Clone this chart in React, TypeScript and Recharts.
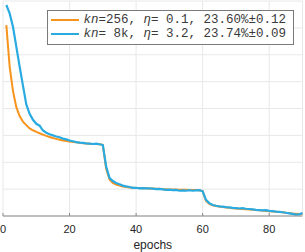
import { CartesianGrid, Legend, Line, LineChart, XAxis, YAxis } from "recharts";

// top-1 error (%) per epoch, epochs 1..90
const smallBatchErr = [
  91.0, 75.6, 66.5, 60.5, 57.2, 55.1, 53.8, 52.6, 51.9, 51.3,
  50.8, 50.3, 49.8, 49.4, 49.0, 48.7, 48.4, 48.1, 47.9, 47.7,
  47.5, 47.4, 47.3, 47.1, 47.0, 46.9, 46.8, 46.8, 46.7, 46.5,
  37.6, 33.6, 32.3, 31.7, 31.3, 31.0, 30.8, 30.6, 30.5, 30.4,
  30.4, 30.3, 30.3, 30.2, 30.2, 30.1, 30.1, 30.0, 30.0, 29.9,
  29.9, 29.9, 29.8, 29.8, 29.8, 29.7, 29.7, 29.7, 29.6, 29.3,
  25.6, 24.5, 24.0, 23.7, 23.5, 23.3, 23.2, 23.1, 22.9, 22.8,
  22.7, 22.6, 22.5, 22.4, 22.3, 22.2, 22.1, 22.0, 21.9, 21.8,
  21.7, 21.6, 21.5, 21.4, 21.2, 21.1, 20.9, 20.8, 20.7, 20.7,
];

const largeBatchErr = [
  98.5, 95.4, 90.4, 83.0, 75.6, 68.5, 61.5, 58.0, 55.8, 54.3,
  53.6, 51.8, 51.0, 50.4, 50.0, 49.6, 49.3, 48.8, 48.5, 48.1,
  47.8, 47.5, 47.3, 47.2, 47.0, 46.9, 46.8, 46.9, 46.7, 46.4,
  38.4, 34.2, 33.0, 32.3, 31.8, 31.3, 31.0, 30.8, 30.5, 30.5,
  30.3, 30.4, 30.3, 30.3, 30.2, 30.0, 30.1, 29.9, 29.7, 29.8,
  29.6, 29.7, 29.4, 29.5, 29.4, 29.6, 29.4, 29.5, 29.6, 29.2,
  26.0, 24.8, 24.1, 23.8, 23.6, 23.5, 23.3, 23.2, 23.0, 22.9,
  22.8, 22.9, 22.7, 22.6, 22.5, 22.3, 22.2, 22.1, 22.2, 21.9,
  21.8, 21.6, 21.5, 21.4, 21.2, 21.0, 20.8, 20.5, 20.6, 21.1,
];

const xTicks = [0, 20, 40, 60, 80];
const yTicks = [20, 30, 40, 50, 60, 70, 80, 90, 100];

const smallLabel = "kn=256, η= 0.1, 23.60%±0.12";
const largeLabel = "kn= 8k, η= 3.2, 23.74%±0.09";
const legendOrder = [smallLabel, largeLabel];

const data = smallBatchErr.map((v, i) => ({
  epoch: i + 1,
  small: v,
  large: largeBatchErr[i],
}));

const axisColor = "#8a8a8a";
const textColor = "#262626";

const italicize = (s: string) =>
  s.split(/(kn|η)/).map((part, i) =>
    part === "kn" || part === "η" ? (
      <i key={i}>{part}</i>
    ) : (
      <span key={i}>{part}</span>
    )
  );

const BottomTick = (props: any) => {
  const { x, y, payload } = props;
  return (
    <g>
      <line x1={x} x2={x} y1={y} y2={y - 3} stroke={axisColor} />
      <text x={x} y={y + 16.5} textAnchor="middle" fontSize={11} fill={textColor}>
        {payload.value}
      </text>
    </g>
  );
};

const TopTick = (props: any) => {
  const { x, y } = props;
  return <line x1={x} x2={x} y1={y} y2={y + 3} stroke={axisColor} />;
};

const LeftTick = (props: any) => {
  const { x, y } = props;
  return <line x1={x} x2={x + 3} y1={y} y2={y} stroke={axisColor} />;
};

const RightTick = (props: any) => {
  const { x, y } = props;
  return <line x1={x} x2={x - 3} y1={y} y2={y} stroke={axisColor} />;
};

const renderLegend = (props: any) => {
  const items = [...props.payload].sort(
    (a: any, b: any) => legendOrder.indexOf(a.value) - legendOrder.indexOf(b.value)
  );
  return (
    <div
      style={{
        boxSizing: "border-box",
        width: 247,
        height: 35,
        border: "1px solid #7a7a7a",
        background: "#fff",
        padding: "2.4px 0 0 3px",
        fontFamily: '"Liberation Mono", "DejaVu Sans Mono", monospace',
        fontSize: 12.5,
        color: "#3a3a3a",
      }}
    >
      {items.map((entry: any) => (
        <div
          key={entry.value}
          style={{ display: "flex", alignItems: "center", height: 14.4 }}
        >
          <span
            style={{
              display: "inline-block",
              width: 28,
              height: 2,
              background: entry.color,
              marginRight: 5,
            }}
          />
          <span style={{ whiteSpace: "pre" }}>{italicize(entry.value)}</span>
        </div>
      ))}
    </div>
  );
};

export default function App() {
  return (
    <div style={{ position: "absolute", left: 0, top: 0 }}>
      <LineChart
        width={305}
        height={252}
        data={data}
        margin={{ top: 1, right: 2.5, left: 3, bottom: 0 }}
        style={{ fontFamily: '"Liberation Sans", Arial, sans-serif' }}
      >
        <CartesianGrid stroke="#e8e8e8" />
        <XAxis
          dataKey="epoch"
          type="number"
          domain={[0, 90]}
          ticks={xTicks}
          interval={0}
          tickSize={0}
          tickMargin={0}
          tickLine={false}
          tick={(p: any) => <BottomTick {...p} />}
          axisLine={{ stroke: axisColor }}
          height={36}
          label={{
            value: "epochs",
            position: "insideBottom",
            offset: 3,
            fill: textColor,
            fontSize: 12,
          }}
        />
        <XAxis
          xAxisId="top"
          orientation="top"
          dataKey="epoch"
          type="number"
          domain={[0, 90]}
          ticks={xTicks}
          interval={0}
          tickSize={0}
          tickMargin={0}
          tickLine={false}
          tick={(p: any) => <TopTick {...p} />}
          axisLine={{ stroke: axisColor }}
          height={0}
        />
        <YAxis
          type="number"
          domain={[20, 100]}
          ticks={yTicks}
          interval={0}
          width={0}
          tickSize={0}
          tickMargin={0}
          tickLine={false}
          tick={(p: any) => <LeftTick {...p} />}
          axisLine={{ stroke: axisColor }}
        />
        <YAxis
          yAxisId="right"
          orientation="right"
          type="number"
          domain={[20, 100]}
          ticks={yTicks}
          interval={0}
          width={0}
          tickSize={0}
          tickMargin={0}
          tickLine={false}
          tick={(p: any) => <RightTick {...p} />}
          axisLine={{ stroke: axisColor }}
        />
        <Legend
          layout="vertical"
          align="center"
          verticalAlign="middle"
          wrapperStyle={{ left: 46.5, top: 9.5, width: 247, height: 35 }}
          content={renderLegend}
        />
        <Line
          type="linear"
          dataKey="small"
          name={smallLabel}
          stroke="#f7941d"
          strokeWidth={2}
          dot={false}
          isAnimationActive={false}
        />
        <Line
          type="linear"
          dataKey="large"
          name={largeLabel}
          stroke="#29abe2"
          strokeWidth={2.2}
          dot={false}
          isAnimationActive={false}
        />
      </LineChart>
    </div>
  );
}
